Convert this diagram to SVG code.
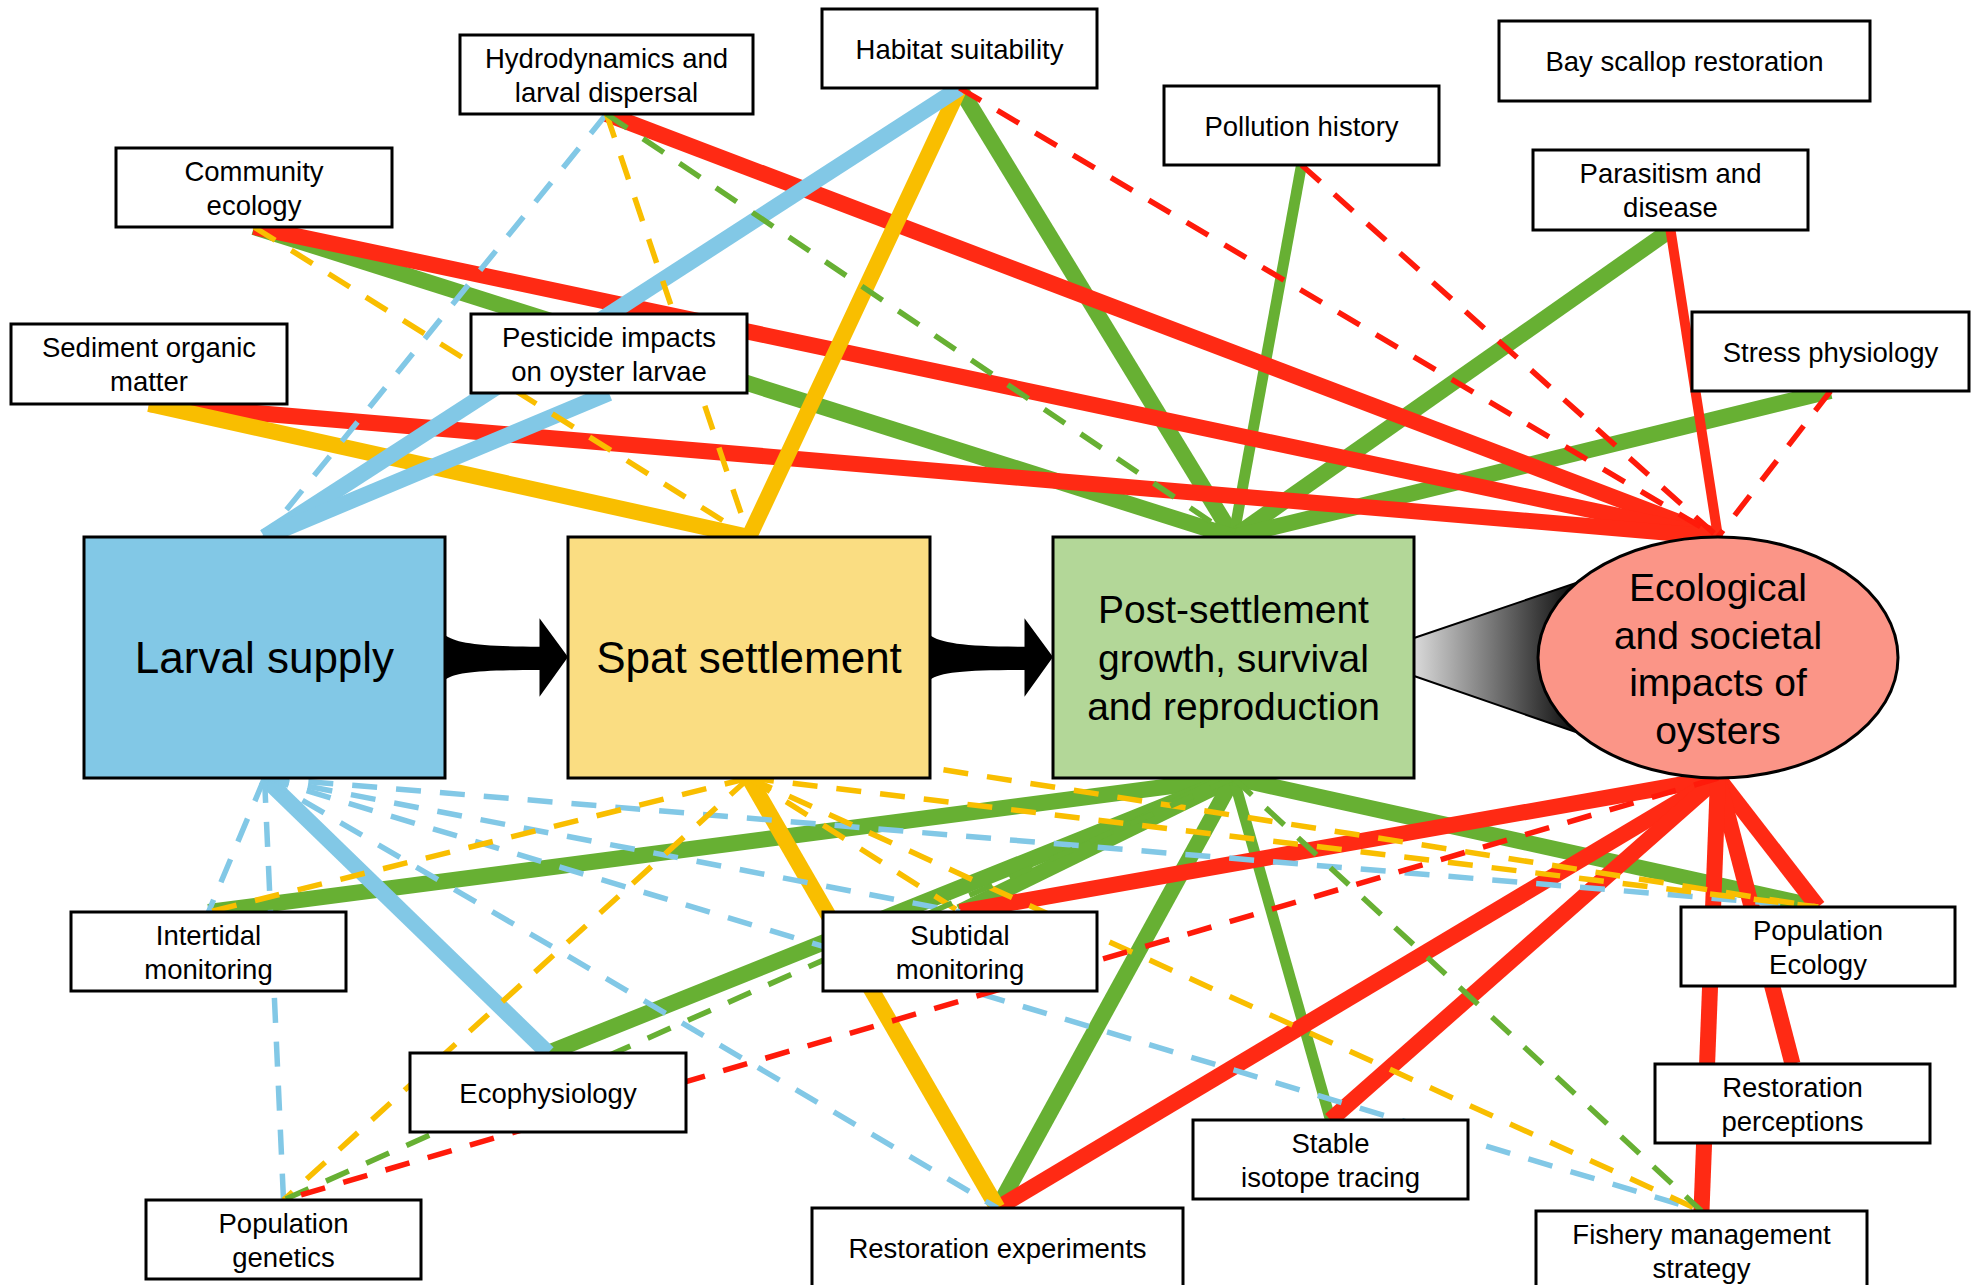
<svg xmlns="http://www.w3.org/2000/svg" width="1978" height="1285" viewBox="0 0 1978 1285">
<defs>
<linearGradient id="grad" gradientUnits="userSpaceOnUse" x1="1414" y1="0" x2="1585" y2="0">
<stop offset="0" stop-color="#dadada"/>
<stop offset="1" stop-color="#000000"/>
</linearGradient>
<style>
#connectors line{fill:none;stroke-linecap:butt}
.bt{stroke:#82C8E6;stroke-width:16}
.bd{stroke:#82C8E6;stroke-width:5.5;stroke-dasharray:25 19}
.yt{stroke:#F9BE00;stroke-width:16}
.yd{stroke:#F9BE00;stroke-width:5.5;stroke-dasharray:25 19}
.gt{stroke:#67B033;stroke-width:16}
.gm{stroke:#67B033;stroke-width:11}
.gd{stroke:#67B033;stroke-width:5.5;stroke-dasharray:25 19}
.rt{stroke:#FF2A14;stroke-width:16}
.rm{stroke:#FF2A14;stroke-width:10}
.rd{stroke:#FF1A0A;stroke-width:5.5;stroke-dasharray:25 19}
.box{fill:#ffffff;stroke:#000000;stroke-width:3}
.t{font-family:"Liberation Sans",Arial,Helvetica,sans-serif;font-size:27.5px;text-anchor:middle;fill:#000000}
.T{font-family:"Liberation Sans",Arial,Helvetica,sans-serif;font-size:44px;text-anchor:middle;fill:#000000}
.M{font-family:"Liberation Sans",Arial,Helvetica,sans-serif;font-size:39px;text-anchor:middle;fill:#000000}
</style>
</defs>
<rect width="1978" height="1285" fill="#ffffff"/>

<g id="connectors">
<!-- green solid -->
<line class="gt" x1="959.5" y1="88" x2="1233.5" y2="537"/>
<line class="gm" x1="1301.5" y1="165" x2="1233.5" y2="537"/>
<line class="gt" x1="1670.5" y1="230" x2="1233.5" y2="537"/>
<line class="gt" x1="1830.5" y1="391" x2="1233.5" y2="537"/>
<line class="gt" x1="254" y1="227" x2="1233.5" y2="537"/>
<line class="gt" x1="1233.5" y1="778" x2="208.5" y2="912"/>
<line class="gt" x1="1233.5" y1="778" x2="548" y2="1053"/>
<line class="gt" x1="1233.5" y1="778" x2="960" y2="912"/>
<line class="gt" x1="1233.5" y1="778" x2="997.5" y2="1208"/>
<line class="gm" x1="1233.5" y1="778" x2="1330.5" y2="1120"/>
<line class="gt" x1="1233.5" y1="778" x2="1818" y2="907"/>
<!-- red solid -->
<line class="rt" x1="606.5" y1="114" x2="1718" y2="537"/>
<line class="rt" x1="254" y1="227" x2="1718" y2="537"/>
<line class="rt" x1="149" y1="404" x2="1718" y2="537"/>
<line class="rm" x1="1670.5" y1="230" x2="1718" y2="537"/>
<line class="rt" x1="1718" y1="778" x2="960" y2="912"/>
<line class="rt" x1="1718" y1="778" x2="997.5" y2="1208"/>
<line class="rt" x1="1718" y1="778" x2="1330.5" y2="1120"/>
<line class="rt" x1="1718" y1="778" x2="1818" y2="907"/>
<line class="rt" x1="1718" y1="778" x2="1792.5" y2="1064"/>
<line class="rt" x1="1718" y1="778" x2="1701.5" y2="1211"/>
<!-- yellow solid -->
<line class="yt" x1="959.5" y1="88" x2="749" y2="537"/>
<line class="yt" x1="149" y1="404" x2="749" y2="537"/>
<line class="yt" x1="749" y1="778" x2="997.5" y2="1208"/>
<!-- blue solid -->
<line class="bt" x1="959.5" y1="88" x2="264.5" y2="537"/>
<line class="bt" x1="609" y1="393" x2="264.5" y2="537"/>
<line class="bt" x1="264.5" y1="778" x2="548" y2="1053"/>
<!-- dashed -->
<line class="bd" x1="606.5" y1="114" x2="264.5" y2="537"/>
<line class="bd" x1="264.5" y1="778" x2="208.5" y2="912"/>
<line class="bd" x1="264.5" y1="778" x2="283.5" y2="1200"/>
<line class="bd" x1="264.5" y1="778" x2="997.5" y2="1208"/>
<line class="bd" x1="264.5" y1="778" x2="1701.5" y2="1211"/>
<line class="bd" x1="264.5" y1="778" x2="960" y2="912"/>
<line class="bd" x1="264.5" y1="778" x2="1818" y2="907"/>
<line class="yd" x1="606.5" y1="114" x2="749" y2="537"/>
<line class="yd" x1="254" y1="227" x2="749" y2="537"/>
<line class="yd" x1="749" y1="778" x2="208.5" y2="912"/>
<line class="yd" x1="749" y1="778" x2="283.5" y2="1200"/>
<line class="yd" x1="749" y1="778" x2="960" y2="912"/>
<line class="yd" x1="749" y1="778" x2="1701.5" y2="1211"/>
<line class="yd" x1="749" y1="778" x2="1818" y2="907"/>
<line class="yd" x1="900" y1="763" x2="1818" y2="907"/>
<line class="gd" x1="606.5" y1="114" x2="1233.5" y2="537"/>
<line class="gd" x1="1233.5" y1="778" x2="283.5" y2="1200"/>
<line class="gd" x1="1233.5" y1="778" x2="1701.5" y2="1211"/>
<line class="rd" x1="959.5" y1="88" x2="1718" y2="537"/>
<line class="rd" x1="1301.5" y1="165" x2="1718" y2="537"/>
<line class="rd" x1="1830.5" y1="391" x2="1718" y2="537"/>
<line class="rd" x1="1718" y1="778" x2="283.5" y2="1200"/>
<!-- stage arrows -->
<path d="M445 635 C455 643 480 646.7 539.5 646.7 L539.5 618.3 L568 657 L539.5 696.7 L539.5 670 C480 670 455 672 445 680 Z" fill="#000000"/>
<path d="M930 635 C940 643 965 646.7 1024.5 646.7 L1024.5 618.3 L1053 657 L1024.5 696.7 L1024.5 670 C965 670 940 672 930 680 Z" fill="#000000"/>
<polygon points="1414,638 1600,574.8 1600,740.4 1414,676" fill="url(#grad)" stroke="#000000" stroke-width="2"/>
</g>

<g id="larval-supply"><rect class="box" x="84" y="537" width="361" height="241" style="fill:#82C8E6"/><text class="T" x="264.5" y="673">Larval supply</text></g>
<g id="spat-settlement"><rect class="box" x="568" y="537" width="362" height="241" style="fill:#FADD82"/><text class="T" x="749" y="673">Spat settlement</text></g>
<g id="post-settlement"><rect class="box" x="1053" y="537" width="361" height="241" style="fill:#B3D798"/><text class="M" x="1233.5" y="623">Post-settlement</text><text class="M" x="1233.5" y="671.5">growth, survival</text><text class="M" x="1233.5" y="720">and reproduction</text></g>
<g id="impacts"><ellipse cx="1718" cy="657.5" rx="180" ry="120.5" fill="#FB9587" stroke="#000000" stroke-width="3"/><text class="M" x="1718" y="601">Ecological</text><text class="M" x="1718" y="648.5">and societal</text><text class="M" x="1718" y="696">impacts of</text><text class="M" x="1718" y="743.5">oysters</text></g>

<g id="hydrodynamics"><rect class="box" x="460" y="35" width="293" height="79"/><text class="t" x="606.5" y="67.5">Hydrodynamics and</text><text class="t" x="606.5" y="101.5">larval dispersal</text></g>
<g id="habitat"><rect class="box" x="822" y="9" width="275" height="79"/><text class="t" x="959.5" y="58.5">Habitat suitability</text></g>
<g id="pollution"><rect class="box" x="1164" y="86" width="275" height="79"/><text class="t" x="1301.5" y="135.5">Pollution history</text></g>
<g id="bay-scallop"><rect class="box" x="1499" y="21" width="371" height="80"/><text class="t" x="1684.5" y="71">Bay scallop restoration</text></g>
<g id="parasitism"><rect class="box" x="1533" y="150" width="275" height="80"/><text class="t" x="1670.5" y="183">Parasitism and</text><text class="t" x="1670.5" y="217">disease</text></g>
<g id="stress"><rect class="box" x="1692" y="312" width="277" height="79"/><text class="t" x="1830.5" y="361.5">Stress physiology</text></g>
<g id="community"><rect class="box" x="116" y="148" width="276" height="79"/><text class="t" x="254" y="180.5">Community</text><text class="t" x="254" y="214.5">ecology</text></g>
<g id="sediment"><rect class="box" x="11" y="324" width="276" height="80"/><text class="t" x="149" y="357">Sediment organic</text><text class="t" x="149" y="391">matter</text></g>
<g id="pesticide"><rect class="box" x="471" y="314" width="276" height="79"/><text class="t" x="609" y="346.5">Pesticide impacts</text><text class="t" x="609" y="380.5">on oyster larvae</text></g>

<g id="intertidal"><rect class="box" x="71" y="912" width="275" height="79"/><text class="t" x="208.5" y="944.5">Intertidal</text><text class="t" x="208.5" y="978.5">monitoring</text></g>
<g id="ecophysiology"><rect class="box" x="410" y="1053" width="276" height="79"/><text class="t" x="548" y="1102.5">Ecophysiology</text></g>
<g id="population-genetics"><rect class="box" x="146" y="1200" width="275" height="79"/><text class="t" x="283.5" y="1232.5">Population</text><text class="t" x="283.5" y="1266.5">genetics</text></g>
<g id="subtidal"><rect class="box" x="823" y="912" width="274" height="79"/><text class="t" x="960" y="944.5">Subtidal</text><text class="t" x="960" y="978.5">monitoring</text></g>
<g id="restoration-experiments"><rect class="box" x="812" y="1208" width="371" height="80"/><text class="t" x="997.5" y="1257.5">Restoration experiments</text></g>
<g id="stable-isotope"><rect class="box" x="1193" y="1120" width="275" height="79"/><text class="t" x="1330.5" y="1152.5">Stable</text><text class="t" x="1330.5" y="1186.5">isotope tracing</text></g>
<g id="population-ecology"><rect class="box" x="1681" y="907" width="274" height="79"/><text class="t" x="1818" y="939.5">Population</text><text class="t" x="1818" y="973.5">Ecology</text></g>
<g id="restoration-perceptions"><rect class="box" x="1655" y="1064" width="275" height="79"/><text class="t" x="1792.5" y="1096.5">Restoration</text><text class="t" x="1792.5" y="1130.5">perceptions</text></g>
<g id="fishery"><rect class="box" x="1536" y="1211" width="331" height="80"/><text class="t" x="1701.5" y="1243.5">Fishery management</text><text class="t" x="1701.5" y="1277.5">strategy</text></g>
</svg>
